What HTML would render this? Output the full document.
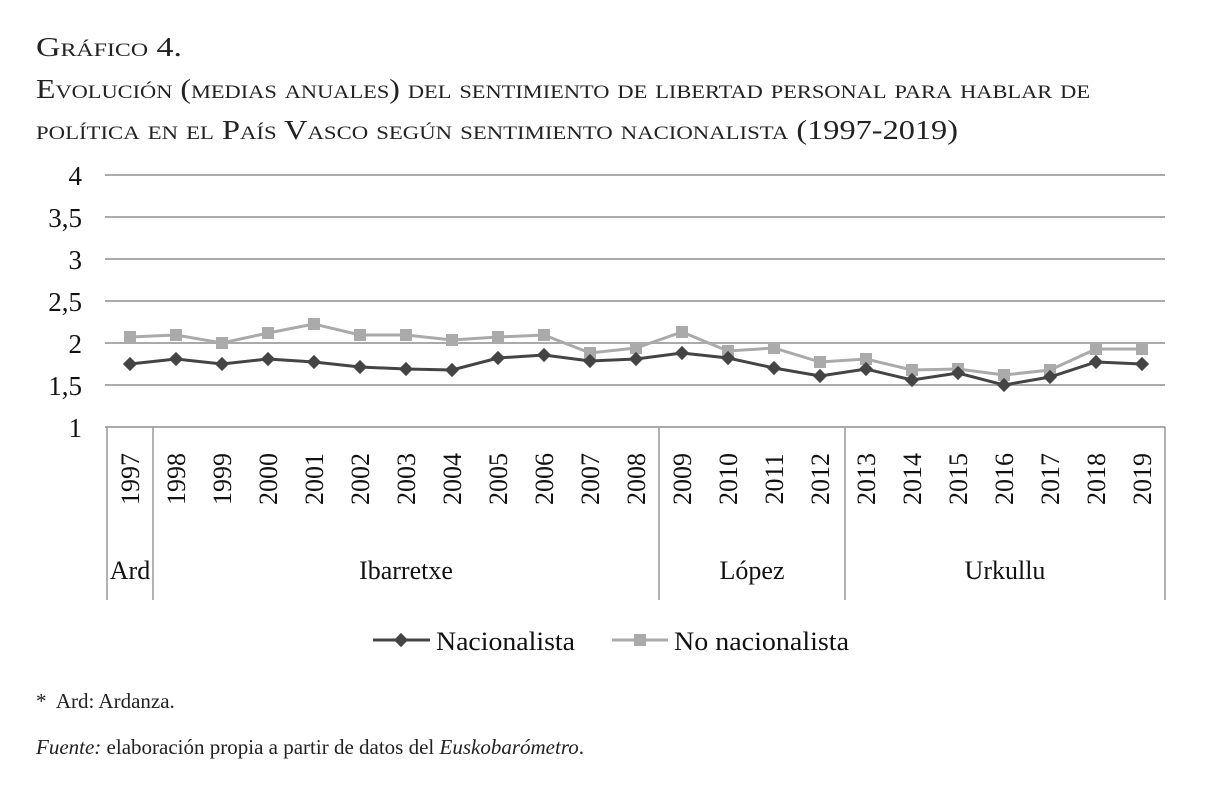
<!DOCTYPE html>
<html><head><meta charset="utf-8"><style>body{margin:0;background:#fff}svg{display:block}</style></head><body>
<svg width="1214" height="793" xmlns="http://www.w3.org/2000/svg" font-family="Liberation Serif, serif">
<g fill="#222" font-size="27" style="font-variant:small-caps">
<text x="36" y="56" textLength="146" lengthAdjust="spacingAndGlyphs">Gráfico 4.</text>
<text x="36" y="98" textLength="1054" lengthAdjust="spacingAndGlyphs">Evolución (medias anuales) del sentimiento de libertad personal para hablar de</text>
<text x="36" y="139" textLength="922" lengthAdjust="spacingAndGlyphs">política en el País Vasco según sentimiento nacionalista (1997-2019)</text>
</g>
<g stroke="#aaa" stroke-width="2">
<line x1="105" y1="175" x2="1165" y2="175"/><line x1="105" y1="217" x2="1165" y2="217"/>
<line x1="105" y1="259" x2="1165" y2="259"/><line x1="105" y1="301" x2="1165" y2="301"/>
<line x1="105" y1="343" x2="1165" y2="343"/><line x1="105" y1="385" x2="1165" y2="385"/>
<line x1="105" y1="427" x2="1165" y2="427"/>
</g>
<g stroke="#999" stroke-width="1.5">
<line x1="107" y1="427" x2="107" y2="600"/><line x1="153" y1="427" x2="153" y2="600"/>
<line x1="659" y1="427" x2="659" y2="600"/><line x1="845" y1="427" x2="845" y2="600"/>
<line x1="1165" y1="427" x2="1165" y2="600"/>
</g>
<g font-size="27" fill="#111" text-anchor="end">
<text x="82" y="185">4</text><text x="82" y="227">3,5</text><text x="82" y="269">3</text>
<text x="82" y="311">2,5</text><text x="82" y="353">2</text><text x="82" y="395">1,5</text><text x="82" y="437">1</text>
</g>
<g font-size="26" fill="#111" text-anchor="middle" id="yrs"></g>
<g font-size="26" fill="#111" text-anchor="middle">
<text x="130" y="579">Ard</text><text x="406" y="579">Ibarretxe</text><text x="752" y="579">López</text><text x="1005" y="579">Urkullu</text>
</g>
<polyline id="nn" fill="none" stroke="#aaa" stroke-width="3"/>
<g id="nnm" fill="#aaa"></g>
<polyline id="na" fill="none" stroke="#444" stroke-width="3"/>
<g id="nam" fill="#444"></g>
<line x1="373" y1="640" x2="430" y2="640" stroke="#444" stroke-width="3"/>
<rect x="396" y="635" width="10" height="10" fill="#444" transform="rotate(45 401 640)"/>
<text x="436" y="650" font-size="26" fill="#111" textLength="139" lengthAdjust="spacingAndGlyphs">Nacionalista</text>
<line x1="612" y1="640" x2="668" y2="640" stroke="#aaa" stroke-width="3"/>
<rect x="634" y="634" width="12" height="12" fill="#aaa"/>
<text x="674" y="650" font-size="26" fill="#111" textLength="175" lengthAdjust="spacingAndGlyphs">No nacionalista</text>
<text x="36" y="708" font-size="21" fill="#222" xml:space="preserve">*  Ard: Ardanza.</text>
<text x="36" y="754" font-size="21" fill="#222"><tspan font-style="italic">Fuente:</tspan> elaboración propia a partir de datos del <tspan font-style="italic">Euskobarómetro</tspan>.</text>
</svg>
<script>
var na=[364,359,364,359,362,367,369,370,358,355,361,359,353,358,368,376,369,380,373,385,377,362,364];
var nn=[337,335,343,333,324,335,335,340,337,335,353,348,332,351,348,362,359,370,369,375,370,349,349];
var ns="http://www.w3.org/2000/svg";
function X(i){return 130+46*i;}
var y=document.getElementById('yrs');
for(var i=0;i<23;i++){var t=document.createElementNS(ns,'text');var x=X(i)+9;t.setAttribute('x',x);t.setAttribute('y',479);t.setAttribute('transform','rotate(-90 '+x+' 479)');t.textContent=1997+i;y.appendChild(t);}
document.getElementById('na').setAttribute('points',na.map(function(v,i){return X(i)+','+v}).join(' '));
document.getElementById('nn').setAttribute('points',nn.map(function(v,i){return X(i)+','+v}).join(' '));
var g1=document.getElementById('nam'),g2=document.getElementById('nnm');
for(var i=0;i<23;i++){var r=document.createElementNS(ns,'rect');r.setAttribute('x',X(i)-5);r.setAttribute('y',na[i]-5);r.setAttribute('width',10);r.setAttribute('height',10);r.setAttribute('transform','rotate(45 '+X(i)+' '+na[i]+')');g1.appendChild(r);
var s=document.createElementNS(ns,'rect');s.setAttribute('x',X(i)-6);s.setAttribute('y',nn[i]-6);s.setAttribute('width',12);s.setAttribute('height',12);g2.appendChild(s);}
</script>
</body></html>
